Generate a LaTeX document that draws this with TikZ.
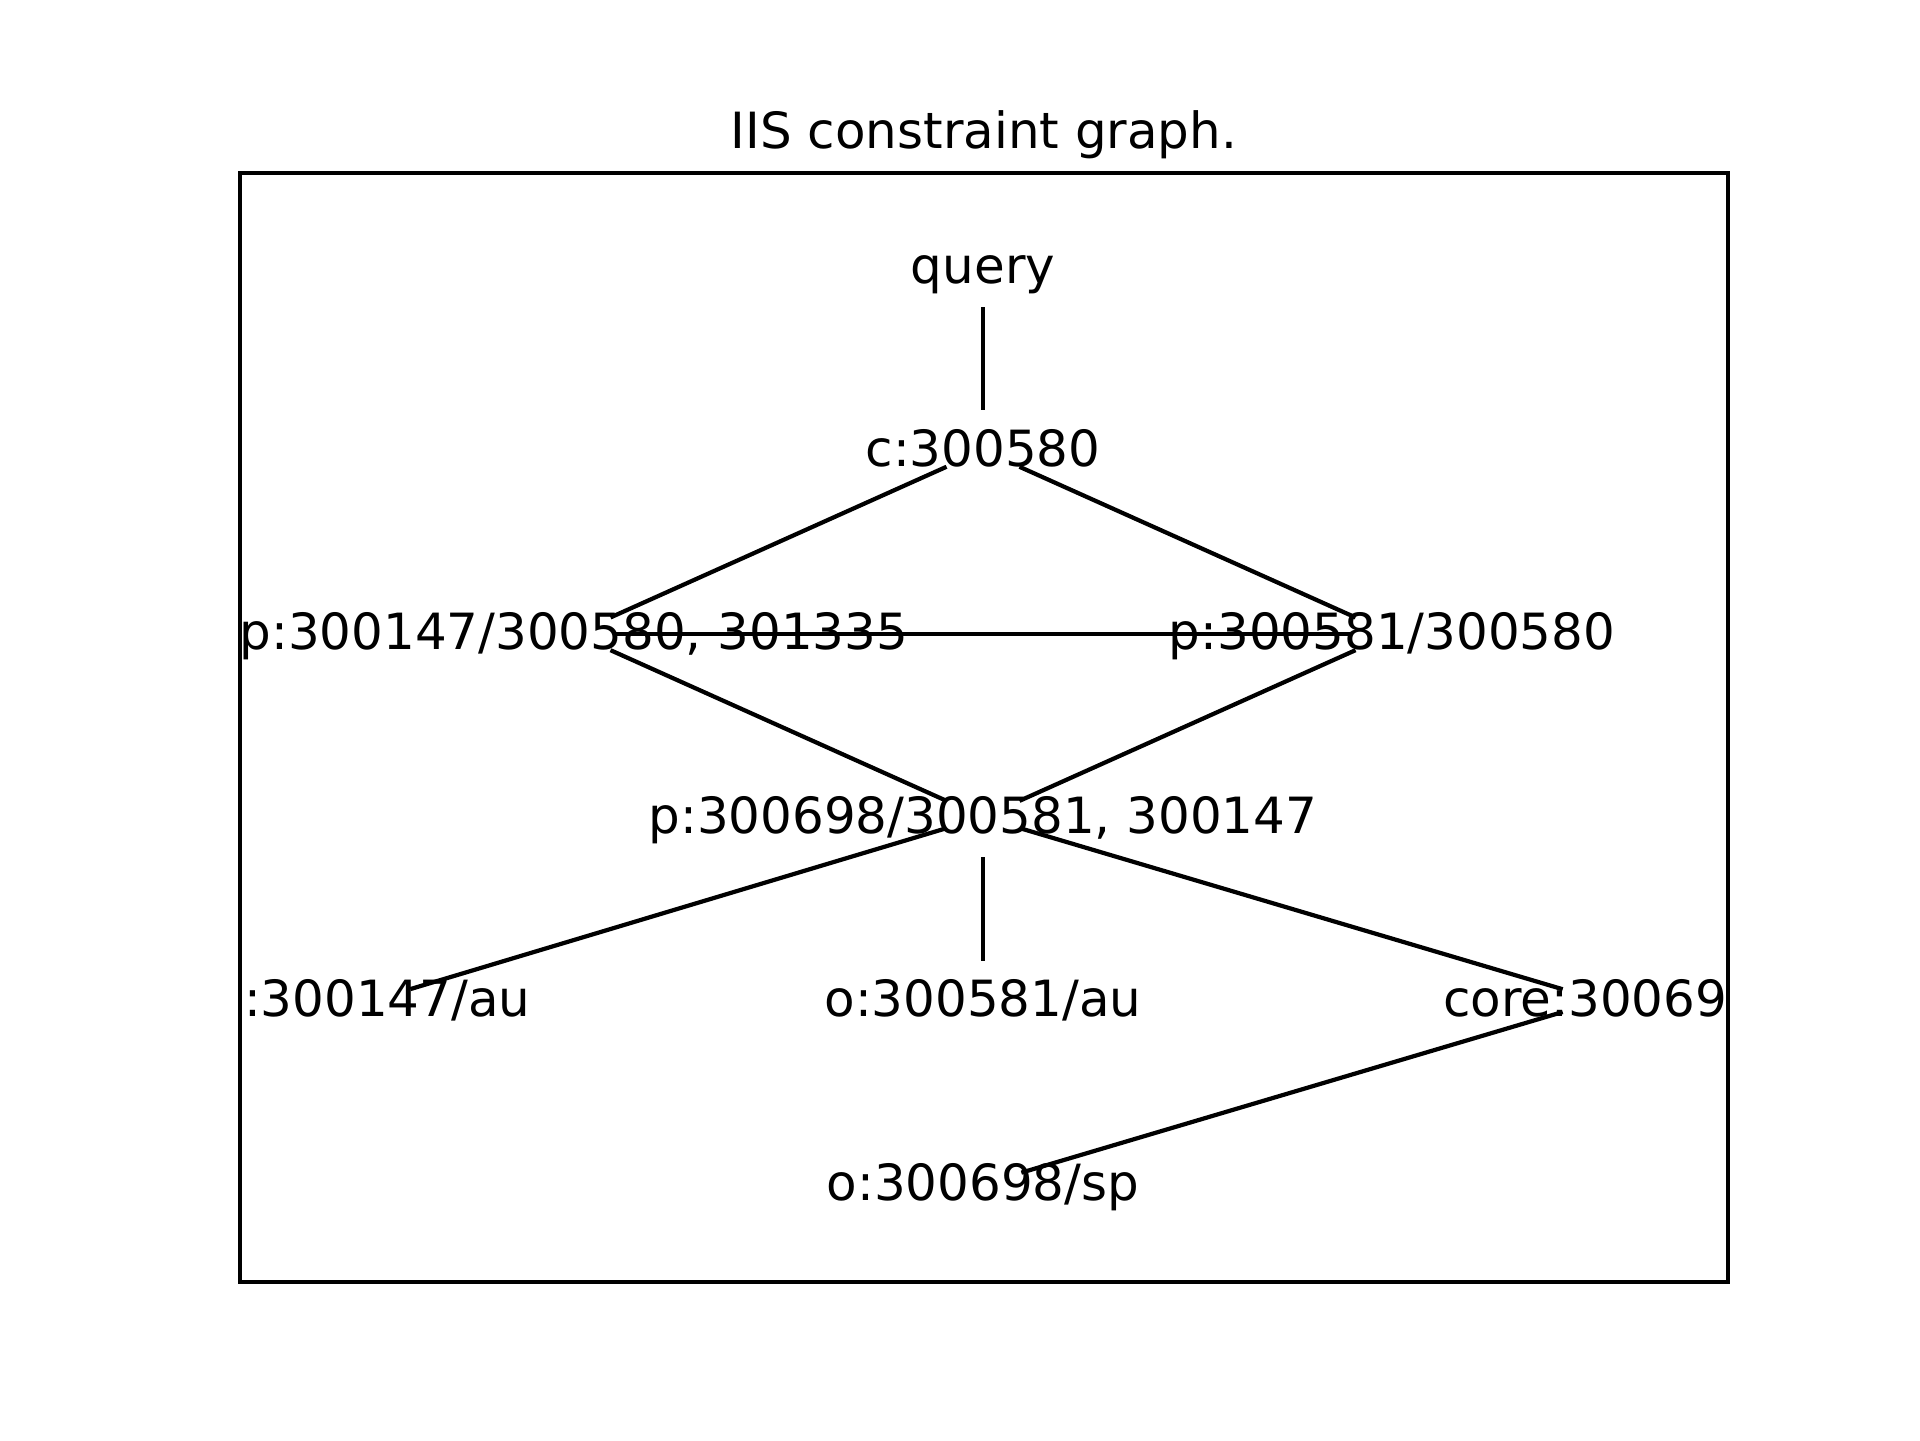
\documentclass[tikz,border=0pt]{standalone}
\usepackage{fontspec}
\setmainfont{DejaVu Sans}

\begin{document}
\begin{tikzpicture}[-,line width=1.2pt,node distance=1.834cm,
  main node/.style={inner sep=0pt,text height=9.2pt,text depth=0pt,font=\fontsize{14.2pt}{17pt}\selectfont},
  title node/.style={inner sep=0pt,anchor=base,font=\fontsize{14.2pt}{17pt}\selectfont},
  graph edge/.style={shorten >=0.4cm,shorten <=0.4cm}]

  \useasboundingbox (0,0) rectangle (19.2,-14.4);
  \node[title node] (title) at (9.84,-1.48) {IIS constraint graph.};
  \draw[line width=0.95pt] (2.40,-1.73) rectangle (17.28,-12.82);

  \begin{scope}
  \clip (2.40,-1.73) rectangle (17.28,-12.82);
  \node[main node] (query) at (9.83,-2.67) {query};
  \node[main node] (c) [below of=query] {c:300580};
  \node[main node] (pa) [below of=c,xshift=-4.09cm] {p:300147/300580, 301335};
  \node[main node] (pb) [below of=c,xshift=4.09cm] {p:300581/300580};
  \node[main node] (pm) [below of=c,yshift=-1.834cm] {p:300698/300581, 300147};
  \node[main node] (oa) [below of=pm,xshift=-6.11cm] {o:300147/au};
  \node[main node] (ob) [below of=pm] {o:300581/au};
  \node[main node] (core) [below of=pm,xshift=6.18cm] {core:300698};
  \node[main node] (osp) [below of=ob] {o:300698/sp};
  \end{scope}

  \path[graph edge]
    (query.center) edge (c.center)
    (c.center) edge (pa.center)
    (c.center) edge (pb.center)
    (pa.center) edge (pb.center)
    (pa.center) edge (pm.center)
    (pb.center) edge (pm.center)
    (pm.center) edge (oa.center)
    (pm.center) edge (ob.center)
    (pm.center) edge (core.center)
    (core.center) edge (osp.center);

\end{tikzpicture}
\end{document}
